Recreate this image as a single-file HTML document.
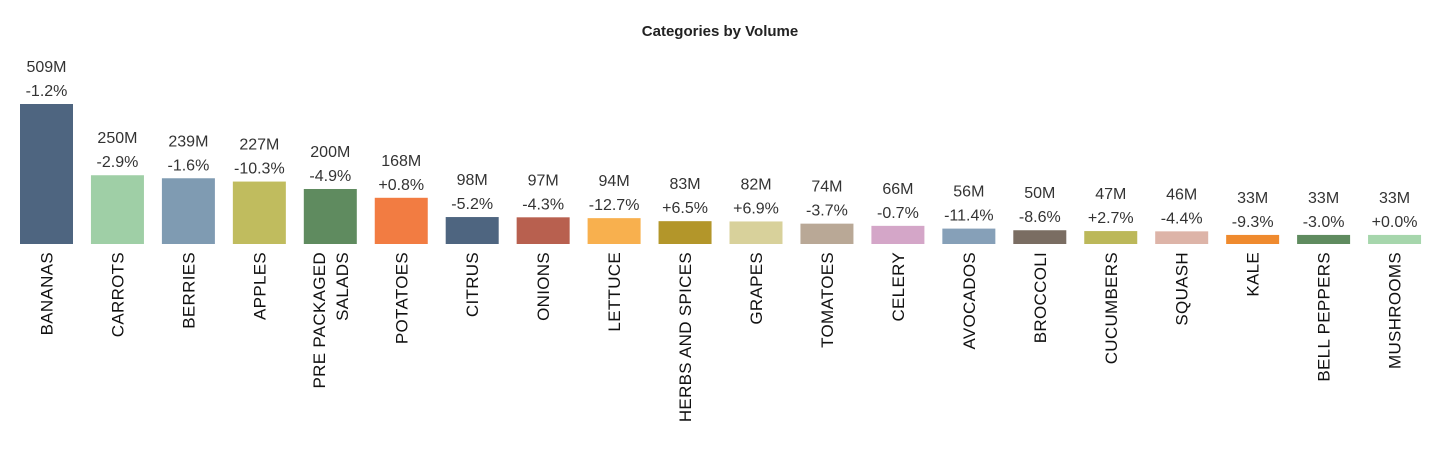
<!DOCTYPE html>
<html><head><meta charset="utf-8"><style>
html,body{margin:0;padding:0;background:#fff;}
svg{display:block;font-family:"Liberation Sans",sans-serif;}
</style></head><body>
<svg id="chart" width="1440" height="449">
<text x="720" y="36" text-anchor="middle" font-size="15" font-weight="bold" fill="#222">Categories by Volume</text>
<g id="bars"></g>
</svg>
<script>
const categories=["BANANAS","CARROTS","BERRIES","APPLES","PRE PACKAGED|SALADS","POTATOES","CITRUS","ONIONS","LETTUCE","HERBS AND SPICES","GRAPES","TOMATOES","CELERY","AVOCADOS","BROCCOLI","CUCUMBERS","SQUASH","KALE","BELL PEPPERS","MUSHROOMS"];
const volumes=[509,250,239,227,200,168,98,97,94,83,82,74,66,56,50,47,46,33,33,33];
const changes=["-1.2%","-2.9%","-1.6%","-10.3%","-4.9%","+0.8%","-5.2%","-4.3%","-12.7%","+6.5%","+6.9%","-3.7%","-0.7%","-11.4%","-8.6%","+2.7%","-4.4%","-9.3%","-3.0%","+0.0%"];
const colors=["#4e6580","#9fcfa6","#7f9bb2","#c0bc5e","#5f8b5f","#f27c42","#4e6580","#b8604f","#f8b04e","#b3962a","#d8d19b","#b9a896","#d4a6c8","#86a0b8","#7a6d62","#bcb85a","#ddb4a8","#ef8a2e","#5f8b5f","#a6d6ac"];
const baseY=244, scale=140/509, x0=20, pitch=70.95, bw=53;
const xAt=i=>x0+i*pitch;
const yAt=v=>baseY-v*scale;
const g=document.getElementById('bars');
const NS='http://www.w3.org/2000/svg';
categories.forEach((c,i)=>{
  const x=xAt(i), y=yAt(volumes[i]), cx=x+bw/2;
  const r=document.createElementNS(NS,'rect');
  
  
  r.setAttribute('x',x);r.setAttribute('y',y);r.setAttribute('width',bw);r.setAttribute('height',baseY-y);r.setAttribute('fill',colors[i]);
  g.appendChild(r);
  const t1=document.createElementNS(NS,'text');
  
  
  t1.setAttribute('x',cx);t1.setAttribute('y',y-32);t1.setAttribute('text-anchor','middle');t1.setAttribute('font-size','16');t1.setAttribute('fill','#333');
  t1.textContent=volumes[i]+'M';g.appendChild(t1);
  const t2=document.createElementNS(NS,'text');
  
  
  t2.setAttribute('x',cx);t2.setAttribute('y',y-8);t2.setAttribute('text-anchor','middle');t2.setAttribute('font-size','16');t2.setAttribute('fill','#333');
  t2.textContent=changes[i];g.appendChild(t2);
  const lines=c.split('|');
  lines.forEach((ln,j)=>{
    const lx=cx+6+(j-(lines.length-1)/2)*23;
    const t=document.createElementNS(NS,'text');
    
    
    t.setAttribute('transform','translate('+lx+',252) rotate(-90)');
    t.setAttribute('text-anchor','end');t.setAttribute('font-size','17');t.setAttribute('letter-spacing','0.3');t.setAttribute('fill','#111');
    t.textContent=ln;g.appendChild(t);
  });
});
</script>
</body></html>
